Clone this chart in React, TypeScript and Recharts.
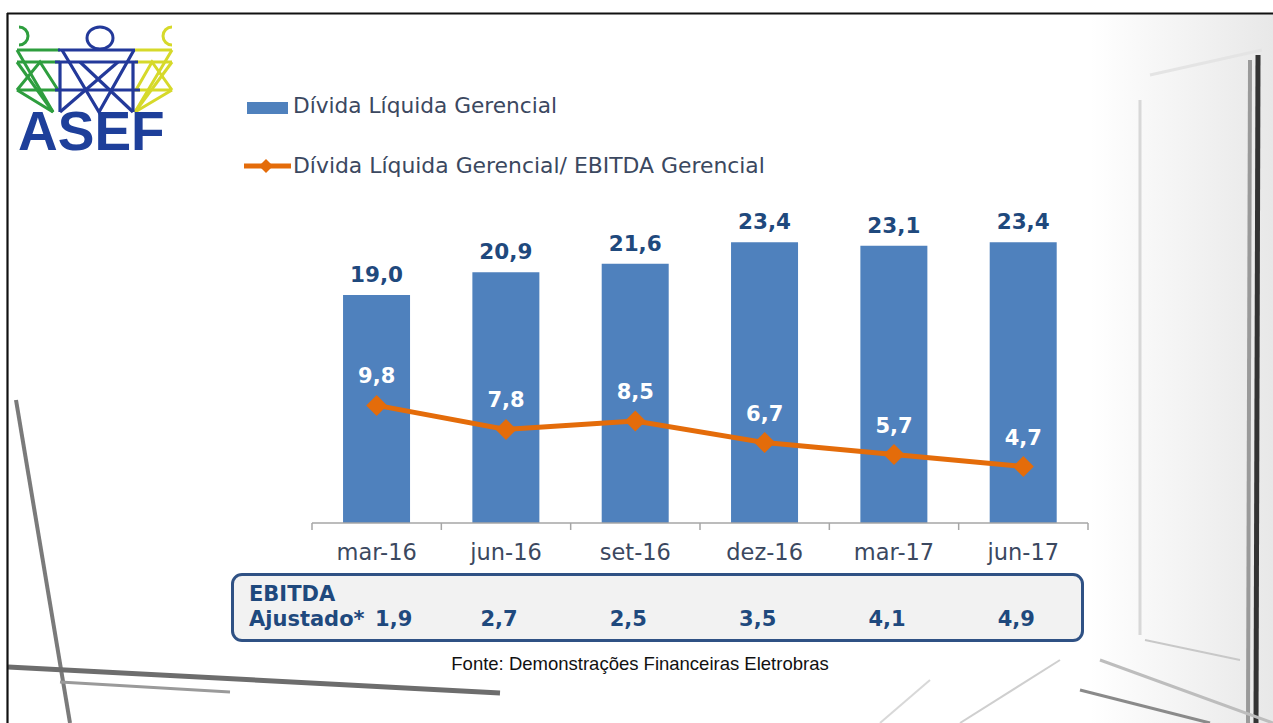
import React from 'react';
import { ComposedChart, Bar, Line, XAxis, YAxis, LabelList } from 'recharts';

const categories = ['mar-16', 'jun-16', 'set-16', 'dez-16', 'mar-17', 'jun-17'];
const dividaLiquida = [19.0, 20.9, 21.6, 23.4, 23.1, 23.4];
const dividaSobreEbitda = [9.8, 7.8, 8.5, 6.7, 5.7, 4.7];
const ebitdaAjustado = [1.9, 2.7, 2.5, 3.5, 4.1, 4.9];

const legendBar = 'Dívida Líquida Gerencial';
const legendLine = 'Dívida Líquida Gerencial/ EBITDA Gerencial';
const source = 'Fonte: Demonstrações Financeiras Eletrobras';

const data = categories.map((c, i) => ({ cat: c, divida: dividaLiquida[i], ratio: dividaSobreEbitda[i] }));

const W = 1273;
const H = 723;
const PLOT_LEFT = 312;
const PLOT_RIGHT = 1088;
const PLOT_TOP = 223;
const PLOT_BOTTOM = 523;
const X_AXIS_H = 40;
const BAND = (PLOT_RIGHT - PLOT_LEFT) / categories.length;

const FONT = '"DejaVu Sans", Verdana, sans-serif';
const BLUE = '#4F81BD';
const ORANGE = '#E46C0A';
const DARK = '#1F497D';
const TICK_COLOR = '#3B4860';

const fmt = (v: number) => v.toFixed(1).replace('.', ',');

const CustomTick = (props: any) => {
  const { x, y, payload, index } = props;
  const axisY = y - 6;
  return (
    <g>
      <line x1={x - BAND / 2} x2={x - BAND / 2} y1={axisY} y2={axisY + 7} stroke="#a6a6a6" strokeWidth={1.5} />
      {index === categories.length - 1 && (
        <line x1={x + BAND / 2} x2={x + BAND / 2} y1={axisY} y2={axisY + 7} stroke="#a6a6a6" strokeWidth={1.5} />
      )}
      <text x={x} y={axisY + 37} textAnchor="middle" fontFamily={FONT} fontSize={22.5} fill={TICK_COLOR}>
        {payload.value}
      </text>
    </g>
  );
};

const BarLabel = (props: any) => {
  const { x, y, width, value } = props;
  return (
    <text x={x + width / 2} y={y - 13} textAnchor="middle" fontFamily={FONT} fontWeight="bold" fontSize={21.5} fill={DARK}>
      {fmt(value)}
    </text>
  );
};

const LineLabel = (props: any) => {
  const { x, y, value } = props;
  return (
    <text x={x} y={y - 22} textAnchor="middle" fontFamily={FONT} fontWeight="bold" fontSize={21} fill="#ffffff">
      {fmt(value)}
    </text>
  );
};

const Diamond = (props: any) => {
  const { cx, cy } = props;
  if (cx == null || cy == null) return null;
  const r = 10.5;
  return <polygon points={`${cx},${cy - r} ${cx + r},${cy} ${cx},${cy + r} ${cx - r},${cy}`} fill={ORANGE} />;
};

const Logo = () => (
  <svg width={190} height={180} style={{ position: 'absolute', left: 0, top: 0 }}>
    {/* heads */}
    <path d="M 19 27 A 9 9 0 1 1 19 45" fill="none" stroke="#2E9E3E" strokeWidth={3} />
    <ellipse cx={100} cy={38} rx={13} ry={11} fill="none" stroke="#23399A" strokeWidth={3} />
    <path d="M 172 27 A 9 9 0 1 0 172 45" fill="none" stroke="#D6D92A" strokeWidth={3} />
    {/* green figure */}
    <g stroke="#2E9E3E" strokeWidth={3} fill="none">
      <line x1={17} y1={50} x2={60} y2={50} />
      <line x1={17} y1={62} x2={60} y2={62} />
      <polyline points="17,50 53,112 17,90" />
      <polyline points="17,62 53,112" />
      <polyline points="17,90 40,62 58,90 17,90" />
    </g>
    {/* yellow figure */}
    <g stroke="#D6D92A" strokeWidth={3} fill="none">
      <line x1={135} y1={50} x2={172} y2={50} />
      <line x1={135} y1={62} x2={172} y2={62} />
      <polyline points="172,50 135,112 172,90" />
      <polyline points="172,62 135,112" />
      <polyline points="172,90 152,62 136,90 172,90" />
    </g>
    {/* blue figure */}
    <g stroke="#23399A" strokeWidth={3.2} fill="none">
      <line x1={58} y1={50} x2={135} y2={50} />
      <line x1={55} y1={62} x2={138} y2={62} />
      <polyline points="62,50 99,112 134,50" />
      <polyline points="60,112 118,62" />
      <polyline points="80,62 133,112" />
      <polyline points="55,90 140,90" />
      <polyline points="60,62 60,112" />
      <polyline points="133,62 133,112" />
    </g>
    <text x={18} y={150} fontFamily='"Liberation Sans", Arial, sans-serif' fontWeight="bold" fontSize={55} fill="#1E3F9A">
      ASEF
    </text>
  </svg>
);

const Background = () => (
  <svg width={W} height={H} style={{ position: 'absolute', left: 0, top: 0 }}>
    <defs>
      <linearGradient id="rg" x1="0" y1="0" x2="1" y2="0">
        <stop offset="0" stopColor="#ffffff" />
        <stop offset="1" stopColor="#e8e8e8" />
      </linearGradient>
    </defs>
    <rect x={0} y={0} width={W} height={H} fill="#ffffff" />
    <rect x={1090} y={14} width={183} height={709} fill="url(#rg)" />
    {/* right window frames */}
    <line x1={1140} y1={100} x2={1140} y2={635} stroke="#d8d8d8" strokeWidth={3} />
    <line x1={1150} y1={75} x2={1262} y2={50} stroke="#e4e4e4" strokeWidth={3} />
    <line x1={1145} y1={640} x2={1240} y2={660} stroke="#c8c8c8" strokeWidth={2} />
    <line x1={1258} y1={55} x2={1256} y2={723} stroke="#333333" strokeWidth={5} />
    <line x1={1250} y1={60} x2={1248} y2={723} stroke="#9a9a9a" strokeWidth={4} />
    {/* bottom diagonal lines */}
    <line x1={1100} y1={660} x2={1273} y2={723} stroke="#bdbdbd" strokeWidth={3} />
    <line x1={1080} y1={690} x2={1210} y2={723} stroke="#8a8a8a" strokeWidth={3} />
    <line x1={960} y1={723} x2={1060} y2={660} stroke="#cfcfcf" strokeWidth={2} />
    <line x1={880} y1={723} x2={930} y2={680} stroke="#d8d8d8" strokeWidth={2} />
    {/* left diagonal and bottom beam */}
    <line x1={16} y1={400} x2={70} y2={723} stroke="#7a7a7a" strokeWidth={4} />
    <line x1={8} y1={667} x2={500} y2={693} stroke="#6d6d6d" strokeWidth={5} />
    <line x1={60} y1={682} x2={230} y2={692} stroke="#9a9a9a" strokeWidth={3} />
    {/* white panel holding the chart */}
    <rect x={180} y={15} width={910} height={636} fill="#ffffff" />
    {/* frame lines */}
    <line x1={7} y1={13.5} x2={W} y2={13.5} stroke="#111111" strokeWidth={2.2} />
    <line x1={7.5} y1={13} x2={7.5} y2={H} stroke="#111111" strokeWidth={2.2} />
  </svg>
);

export default function App() {
  return (
    <div style={{ position: 'fixed', left: 0, top: 0, width: W, height: H, overflow: 'hidden', background: '#ffffff' }}>
      <Background />
      <Logo />
      {/* legend */}
      <div style={{ position: 'absolute', left: 247, top: 102, width: 41, height: 12, background: BLUE }} />
      <div style={{ position: 'absolute', left: 293, top: 93, fontFamily: FONT, fontSize: 21.7, color: TICK_COLOR, whiteSpace: 'nowrap', lineHeight: '26px' }}>
        {legendBar}
      </div>
      <svg width={50} height={20} style={{ position: 'absolute', left: 243, top: 156 }}>
        <line x1={1} y1={10} x2={48} y2={10} stroke={ORANGE} strokeWidth={5} />
        <polygon points="23,3 30,10 23,17 16,10" fill={ORANGE} />
      </svg>
      <div style={{ position: 'absolute', left: 293, top: 153, fontFamily: FONT, fontSize: 21.9, color: TICK_COLOR, whiteSpace: 'nowrap', lineHeight: '26px' }}>
        {legendLine}
      </div>

      <div style={{ position: 'absolute', left: 0, top: 0 }}>
        <ComposedChart
          width={W}
          height={H}
          data={data}
          margin={{ top: PLOT_TOP, right: W - PLOT_RIGHT, bottom: H - PLOT_BOTTOM - X_AXIS_H, left: PLOT_LEFT }}
          barCategoryGap="24%"
        >
          <XAxis
            dataKey="cat"
            height={X_AXIS_H}
            interval={0}
            tickLine={false}
            tickSize={6}
            tickMargin={0}
            axisLine={{ stroke: '#a6a6a6', strokeWidth: 1.5 }}
            tick={<CustomTick />}
          />
          <YAxis hide width={0} domain={[0, 25]} />
          <Bar dataKey="divida" fill={BLUE} isAnimationActive={false}>
            <LabelList dataKey="divida" content={<BarLabel />} />
          </Bar>
          <Line
            dataKey="ratio"
            type="linear"
            stroke={ORANGE}
            strokeWidth={5}
            dot={<Diamond />}
            activeDot={false}
            isAnimationActive={false}
          >
            <LabelList dataKey="ratio" content={<LineLabel />} />
          </Line>
        </ComposedChart>
      </div>

      {/* EBITDA table */}
      <div
        style={{
          position: 'absolute',
          left: 231,
          top: 573,
          width: 847,
          height: 63,
          border: '3px solid #2F5184',
          borderRadius: 11,
          background: '#f2f2f2',
        }}
      />
      <div style={{ position: 'absolute', left: 249, top: 582, fontFamily: FONT, fontWeight: 'bold', fontSize: 21, color: DARK, lineHeight: '25px' }}>
        EBITDA
      </div>
      <div style={{ position: 'absolute', left: 249, top: 607, fontFamily: FONT, fontWeight: 'bold', fontSize: 21, color: DARK, lineHeight: '25px' }}>
        Ajustado*
      </div>
      {ebitdaAjustado.map((v, i) => (
        <div
          key={categories[i]}
          style={{
            position: 'absolute',
            left: (i === 0 ? PLOT_LEFT + BAND * 0.5 + 17 : PLOT_LEFT + BAND * (i + 0.5) - 7) - 40,
            width: 80,
            textAlign: 'center',
            top: 607,
            fontFamily: FONT,
            fontWeight: 'bold',
            fontSize: 21,
            color: DARK,
            lineHeight: '25px',
          }}
        >
          {fmt(v)}
        </div>
      ))}

      <div style={{ position: 'absolute', left: 440, top: 653, width: 400, textAlign: 'center', fontFamily: '"Liberation Sans", Arial, sans-serif', fontSize: 18.5, color: '#111111', whiteSpace: 'nowrap' }}>
        {source}
      </div>
    </div>
  );
}
